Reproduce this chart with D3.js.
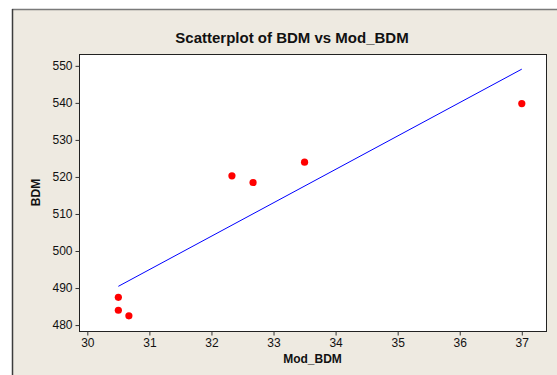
<!DOCTYPE html>
<html>
<head>
<meta charset="utf-8">
<script src="https://cdn.jsdelivr.net/npm/d3@7"></script>
<style>
  body { margin: 0; background: #fff; }
  svg { display: block; }
  text { font-family: "Liberation Sans", Arial, sans-serif; fill: #111; }
</style>
</head>
<body>
<div id="chart"></div>
<script>
const width = 557;
const height = 375;

// data
const modBDM = [30.5, 30.5, 30.67, 32.33, 32.67, 33.5, 37.0];
const bdm = [487.5, 484.0, 482.5, 520.3, 518.5, 524.0, 539.8];
const xTicks = [30, 31, 32, 33, 34, 35, 36, 37];
const yTicks = [480, 490, 500, 510, 520, 530, 540, 550];

const plot = { left: 79, top: 54, right: 546, bottom: 331 };

const svg = d3.select("#chart")
  .append("svg")
  .attr("width", width)
  .attr("height", height);

// graph window background + frame
svg.append("rect")
  .attr("x", 12).attr("y", 9)
  .attr("width", width).attr("height", height)
  .attr("fill", "#eeeae1");
svg.append("line")
  .attr("x1", 12).attr("x2", width).attr("y1", 9.5).attr("y2", 9.5)
  .attr("stroke", "#7a7a7a").attr("stroke-width", 1.5);
svg.append("line")
  .attr("x1", 12.5).attr("x2", 12.5).attr("y1", 9).attr("y2", height)
  .attr("stroke", "#3c3c3c").attr("stroke-width", 1.5);

const x = d3.scaleLinear().domain([29.866, 37.39]).range([plot.left, plot.right]);
const y = d3.scaleLinear().domain([478.4, 553.2]).range([plot.bottom, plot.top]);

// plot area
svg.append("rect")
  .attr("x", plot.left + 0.5).attr("y", plot.top + 0.5)
  .attr("width", plot.right - plot.left).attr("height", plot.bottom - plot.top)
  .attr("fill", "#fff").attr("stroke", "#222").attr("stroke-width", 1);

// axes
const xAxis = svg.append("g")
  .attr("transform", `translate(0,${plot.bottom + 0.5})`)
  .call(d3.axisBottom(x).tickValues(xTicks).tickSize(4).tickPadding(3).tickFormat(d3.format("d")));
const yAxis = svg.append("g")
  .attr("transform", `translate(${plot.left + 0.5},0)`)
  .call(d3.axisLeft(y).tickValues(yTicks).tickSize(4).tickPadding(3).tickFormat(d3.format("d")));

[xAxis, yAxis].forEach((a) => {
  a.select(".domain").remove();
  a.selectAll(".tick line").attr("stroke", "#333");
  a.selectAll(".tick text")
    .attr("font-size", 12)
    .attr("font-family", "Liberation Sans, Arial, sans-serif")
    .attr("fill", "#111");
});

// least squares fit line
const mx = d3.mean(modBDM);
const my = d3.mean(bdm);
const sxy = d3.sum(modBDM, (v, i) => (v - mx) * (bdm[i] - my));
const sxx = d3.sum(modBDM, (v) => (v - mx) * (v - mx));
const slope = sxy / sxx;
const intercept = my - slope * mx;
const [x0, x1] = d3.extent(modBDM);

svg.append("line")
  .attr("x1", x(x0)).attr("y1", y(intercept + slope * x0))
  .attr("x2", x(x1)).attr("y2", y(intercept + slope * x1))
  .attr("stroke", "#0000ff").attr("stroke-width", 1);

// points
svg.append("g")
  .selectAll("circle")
  .data(modBDM.map((v, i) => [v, bdm[i]]))
  .enter()
  .append("circle")
  .attr("cx", (d) => x(d[0]))
  .attr("cy", (d) => y(d[1]))
  .attr("r", 3.6)
  .attr("fill", "#ff0000");

// titles
svg.append("text")
  .attr("x", 292).attr("y", 43)
  .attr("text-anchor", "middle")
  .attr("font-size", 15).attr("font-weight", "bold")
  .text("Scatterplot of BDM vs Mod_BDM");

svg.append("text")
  .attr("x", (plot.left + plot.right) / 2).attr("y", 363)
  .attr("text-anchor", "middle")
  .attr("font-size", 12).attr("font-weight", "bold")
  .text("Mod_BDM");

svg.append("text")
  .attr("transform", `translate(40,${(plot.top + plot.bottom) / 2}) rotate(-90)`)
  .attr("text-anchor", "middle")
  .attr("font-size", 12).attr("font-weight", "bold")
  .text("BDM");
</script>
</body>
</html>
